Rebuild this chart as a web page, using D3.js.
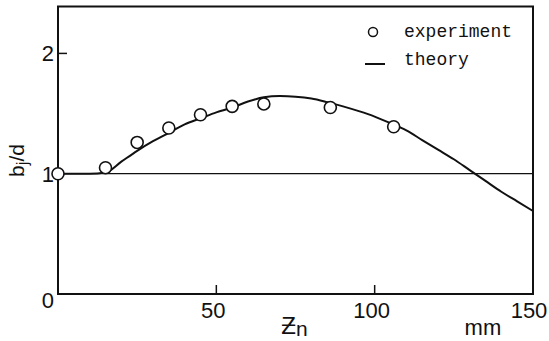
<!DOCTYPE html>
<html>
<head>
<meta charset="utf-8">
<script src="https://cdn.jsdelivr.net/npm/d3@7"></script>
<style>
  body { margin: 0; background: #fff; }
  svg { display: block; }
  .tick-label { font-family: "Liberation Sans", Arial, sans-serif; font-size: 22px; fill: #111; }
  .legend { font-family: "Liberation Mono", "Courier New", monospace; font-size: 18px; fill: #111; }
</style>
</head>
<body>
<div id="chart"></div>
<script>
(function () {

  // experiment points (z_n in mm, b_j/d)
  var expX = [0, 15, 25, 35, 45, 55, 65, 86, 106]
  var expY = [1.0, 1.05, 1.26, 1.38, 1.49, 1.56, 1.58, 1.55, 1.39]

  // theory curve
  var theoryX = [0, 10, 15, 20, 25, 30, 35, 40, 45, 50, 55, 60, 65, 70, 75, 80, 85, 90, 95, 100,
                 105, 110, 115, 120, 125, 130, 135, 140, 145, 150]
  var theoryY = [1.0, 1.0, 1.01, 1.10, 1.19, 1.27, 1.34, 1.41, 1.46, 1.51, 1.55, 1.60, 1.635, 1.645, 1.64,
                 1.625, 1.595, 1.56, 1.52, 1.475, 1.42, 1.36, 1.28, 1.20, 1.12, 1.03, 0.94, 0.85, 0.77, 0.69]

  var xTicks = [50, 100, 150]
  var yTicks = [0, 1, 2]
  var refLine = 1.0

  var margin = { top: 6.5, right: 16, bottom: 47, left: 58 }
  var width = 549 - margin.left - margin.right,
      height = 341 - margin.top - margin.bottom

  var svg = d3.select("#chart").append("svg")
    .attr("width", 549)
    .attr("height", 341)
    .append("g")
    .attr("transform", "translate(" + margin.left + "," + margin.top + ")")

  var xPositionScale = d3.scaleLinear().domain([0, 150]).range([0, width])
  var yPositionScale = d3.scaleLinear().domain([0, 2.39]).range([height, 0])

  // frame
  svg.append("rect")
    .attr("width", width).attr("height", height)
    .attr("fill", "none").attr("stroke", "#111").attr("stroke-width", 2)

  // inward ticks
  svg.selectAll(".xtick")
    .data(xTicks.filter(function (d) { return d < 150 }))
    .enter().append("line")
    .attr("x1", function (d) { return xPositionScale(d) })
    .attr("x2", function (d) { return xPositionScale(d) })
    .attr("y1", height).attr("y2", height - 9)
    .attr("stroke", "#111").attr("stroke-width", 1.5)

  svg.selectAll(".ytick")
    .data(yTicks.filter(function (d) { return d === 2 }))
    .enter().append("line")
    .attr("x1", 0).attr("x2", 9)
    .attr("y1", function (d) { return yPositionScale(d) })
    .attr("y2", function (d) { return yPositionScale(d) })
    .attr("stroke", "#111").attr("stroke-width", 1.5)

  // tick labels
  svg.selectAll(".xlabel")
    .data(xTicks)
    .enter().append("text")
    .attr("class", "tick-label")
    .attr("x", function (d) { return xPositionScale(d) - (d === 150 ? 4 : 3) })
    .attr("y", height + 24)
    .attr("text-anchor", "middle")
    .text(function (d) { return d })

  svg.selectAll(".ylabel")
    .data(yTicks)
    .enter().append("text")
    .attr("class", "tick-label")
    .attr("x", -4)
    .attr("y", function (d) { return yPositionScale(d) + (d === 0 ? 14 : 8) })
    .attr("text-anchor", "end")
    .text(function (d) { return d })

  // reference line b_j/d = 1
  svg.append("line")
    .attr("x1", 0).attr("x2", width)
    .attr("y1", yPositionScale(refLine)).attr("y2", yPositionScale(refLine))
    .attr("stroke", "#111").attr("stroke-width", 1.3)

  // theory
  var line = d3.line()
    .x(function (d) { return xPositionScale(d[0]) })
    .y(function (d) { return yPositionScale(d[1]) })
    .curve(d3.curveMonotoneX)

  svg.append("path")
    .datum(d3.zip(theoryX, theoryY))
    .attr("d", line)
    .attr("fill", "none")
    .attr("stroke", "#111")
    .attr("stroke-width", 2)

  // experiment
  svg.selectAll(".pt")
    .data(d3.zip(expX, expY))
    .enter().append("circle")
    .attr("cx", function (d) { return xPositionScale(d[0]) })
    .attr("cy", function (d) { return yPositionScale(d[1]) })
    .attr("r", 6)
    .attr("fill", "#fff")
    .attr("stroke", "#111")
    .attr("stroke-width", 1.6)

  // axis titles
  svg.append("text")
    .attr("class", "tick-label")
    .attr("transform", "translate(" + (-34) + "," + (yPositionScale(1.11)) + ") rotate(-90)")
    .attr("text-anchor", "middle")
    .style("font-size", "21px")
    .html('b<tspan font-size="17px" dy="4">j</tspan><tspan dy="-4">/d</tspan>')

  svg.append("text")
    .attr("class", "tick-label")
    .attr("x", xPositionScale(70.5))
    .attr("y", height + 40)
    .style("font-size", "24px")
    .html('Ƶ<tspan font-size="21px" dy="2">n</tspan>')

  svg.append("text")
    .attr("class", "tick-label")
    .attr("x", xPositionScale(128.4))
    .attr("y", height + 41)
    .text("mm")

  // legend
  var legend = svg.append("g").attr("transform", "translate(" + (373 - margin.left) + ",0)")
  legend.append("circle")
    .attr("cx", 0).attr("cy", 32 - margin.top).attr("r", 4.5)
    .attr("fill", "#fff").attr("stroke", "#111").attr("stroke-width", 1.5)
  legend.append("text").attr("class", "legend")
    .attr("x", 31).attr("y", 37 - margin.top).text("experiment")
  legend.append("line")
    .attr("x1", -8).attr("x2", 12)
    .attr("y1", 64 - margin.top).attr("y2", 64 - margin.top)
    .attr("stroke", "#111").attr("stroke-width", 2)
  legend.append("text").attr("class", "legend")
    .attr("x", 31).attr("y", 65 - margin.top).text("theory")

})()
</script>
</body>
</html>
